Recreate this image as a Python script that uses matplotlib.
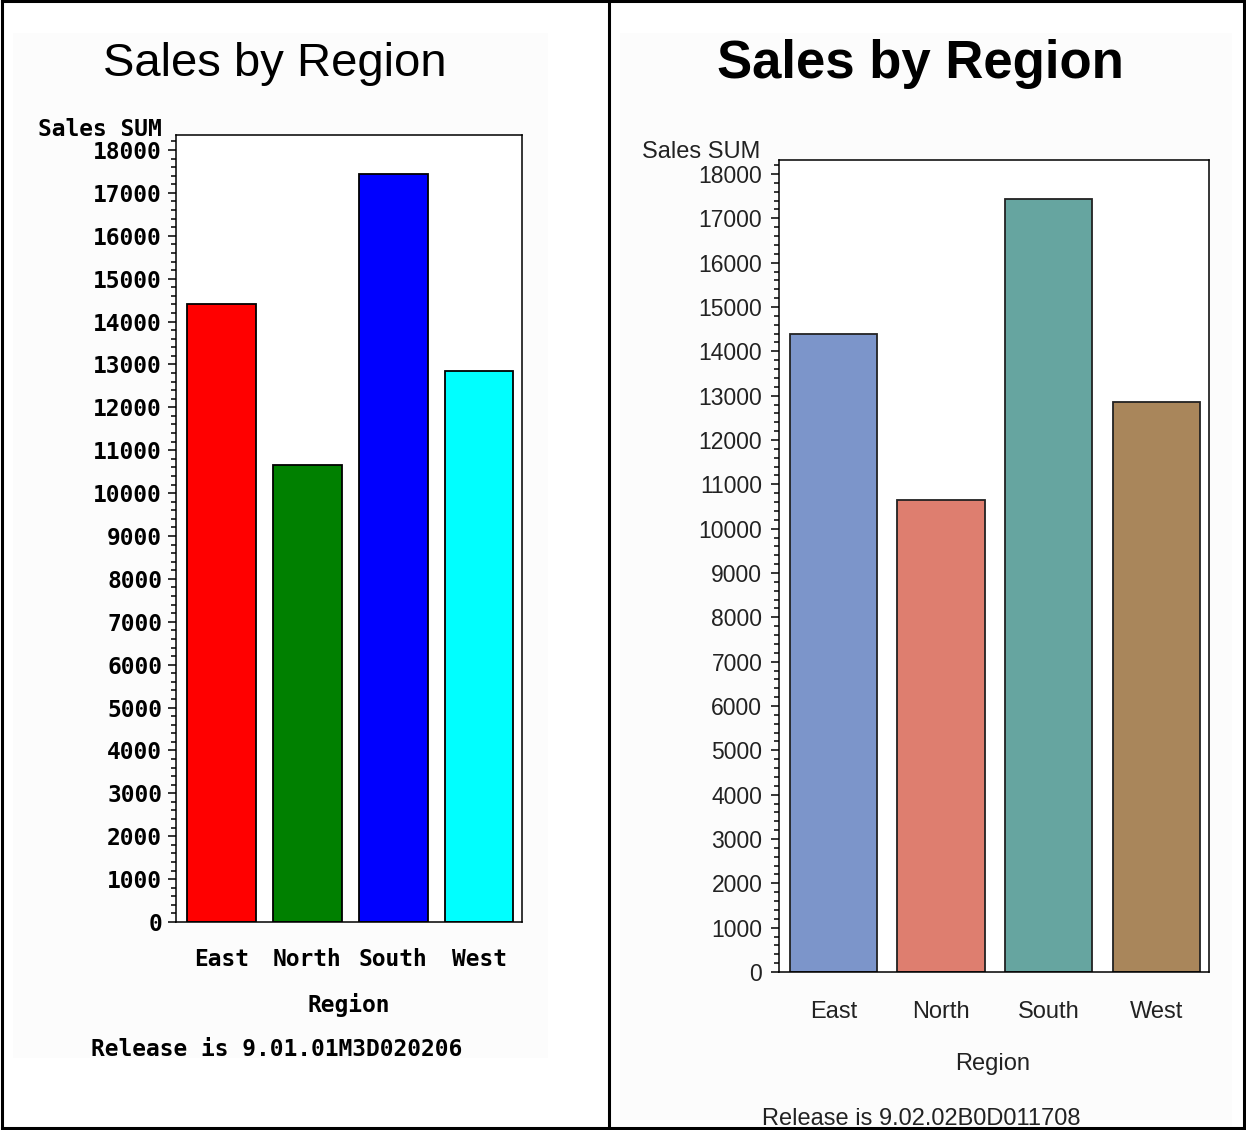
import matplotlib
matplotlib.use("Agg")
import matplotlib.pyplot as plt
from matplotlib.lines import Line2D
from matplotlib.patches import Rectangle
from matplotlib.ticker import MultipleLocator

regions = ["East", "North", "South", "West"]
sales = [14400, 10650, 17430, 12850]
yticks = list(range(0, 18001, 1000))

old_colors = ["#FF0000", "#008000", "#0000FF", "#00FFFF"]
new_colors = ["#7C95CA", "#DE7E6F", "#66A5A0", "#A9865B"]

W, H = 1246, 1130
fig = plt.figure(figsize=(W / 100, H / 100), dpi=100)
fig.patch.set_facecolor("white")


def px_box(x0, y0, x1, y1):
    # pixel box (top-left origin) -> figure fraction rect
    return [x0 / W, 1 - y1 / H, (x1 - x0) / W, (y1 - y0) / H]


def fx(x):
    return x / W


def fy(y):
    return 1 - y / H


# faint page backgrounds behind each graph
for x0, y0, x1, y1 in [(13, 33, 548, 1058), (620, 33, 1232, 1126)]:
    fig.patches.append(Rectangle((fx(x0), fy(y1)), fx(x1) - fx(x0), fy(y0) - fy(y1),
                                 transform=fig.transFigure, facecolor="#fcfcfc",
                                 edgecolor="none", zorder=-5))

# outer frame and divider
for xs, ys in [([2, 2], [1, 1128]), ([1244, 1244], [1, 1128]),
               ([2, 1244], [1, 1]), ([2, 1244], [1128, 1128]),
               ([609, 609], [1, 1128])]:
    fig.add_artist(Line2D([fx(v) for v in xs], [fy(v) for v in ys],
                          color="black", lw=2.2, transform=fig.transFigure))

# ---- left: old style graph ----
mono = "DejaVu Sans Mono"
mono_size = 16.5
ax1 = fig.add_axes(px_box(176, 135, 522, 922))
ax1.bar(range(len(regions)), sales, width=0.8, color=old_colors,
        edgecolor="black", linewidth=1.3, zorder=2)
ax1.set_xlim(-0.53, 3.5)
ax1.set_ylim(0, 18350)
ax1.set_yticks(yticks)
ax1.set_yticklabels([str(v) for v in yticks], fontfamily=mono,
                    fontweight="bold", fontsize=mono_size)
ax1.yaxis.set_minor_locator(MultipleLocator(200))
ax1.tick_params(axis="y", which="major", length=6, width=1.1, pad=4)
ax1.tick_params(axis="y", which="minor", length=3.5, width=1.1)
ax1.set_xticks(range(len(regions)))
ax1.set_xticklabels(regions, fontfamily=mono, fontweight="bold", fontsize=mono_size)
ax1.tick_params(axis="x", length=0, pad=19)
for s in ax1.spines.values():
    s.set_linewidth(1.1)

fig.text(fx(38), fy(130), "Sales SUM", ha="left", va="center",
         fontfamily=mono, fontweight="bold", fontsize=mono_size)
fig.text(fx(275), fy(64), "Sales by Region", ha="center", va="center",
         fontfamily="Liberation Sans", fontsize=34)
fig.text(fx(349), fy(1005), "Region", ha="center", va="center",
         fontfamily=mono, fontweight="bold", fontsize=mono_size)
fig.text(fx(277), fy(1049), "Release is 9.01.01M3D020206", ha="center",
         va="center", fontfamily=mono, fontweight="bold", fontsize=mono_size)

# ---- right: newer style graph ----
sans = "Liberation Sans"
ax2 = fig.add_axes(px_box(779, 160, 1209, 972))
ax2.bar(range(len(regions)), sales, width=0.81, color=new_colors,
        edgecolor="#222222", linewidth=1.3, zorder=2)
ax2.set_xlim(-0.506, 3.49)
ax2.set_ylim(0, 18316)
ax2.set_yticks(yticks)
ax2.set_yticklabels([str(v) for v in yticks], fontfamily=sans,
                    fontsize=16.5, color="#222222")
ax2.yaxis.set_minor_locator(MultipleLocator(200))
ax2.tick_params(axis="y", which="major", length=6, width=1.1, pad=6)
ax2.tick_params(axis="y", which="minor", length=3.5, width=1.1)
ax2.set_xticks(range(len(regions)))
ax2.set_xticklabels(regions, fontfamily=sans, fontsize=17, color="#222222")
ax2.tick_params(axis="x", length=0, pad=21)
for s in ax2.spines.values():
    s.set_linewidth(1.1)

fig.text(fx(642), fy(152), "Sales SUM", ha="left", va="center",
         fontfamily=sans, fontsize=17, color="#222222")
fig.text(fx(920), fy(64), "Sales by Region", ha="center", va="center",
         fontfamily=sans, fontweight="bold", fontsize=38)
fig.text(fx(993), fy(1064), "Region", ha="center", va="center",
         fontfamily=sans, fontsize=17, color="#222222")
fig.text(fx(921), fy(1119), "Release is 9.02.02B0D011708", ha="center",
         va="center", fontfamily=sans, fontsize=17, color="#222222")

fig.savefig("out.png", dpi=100)
